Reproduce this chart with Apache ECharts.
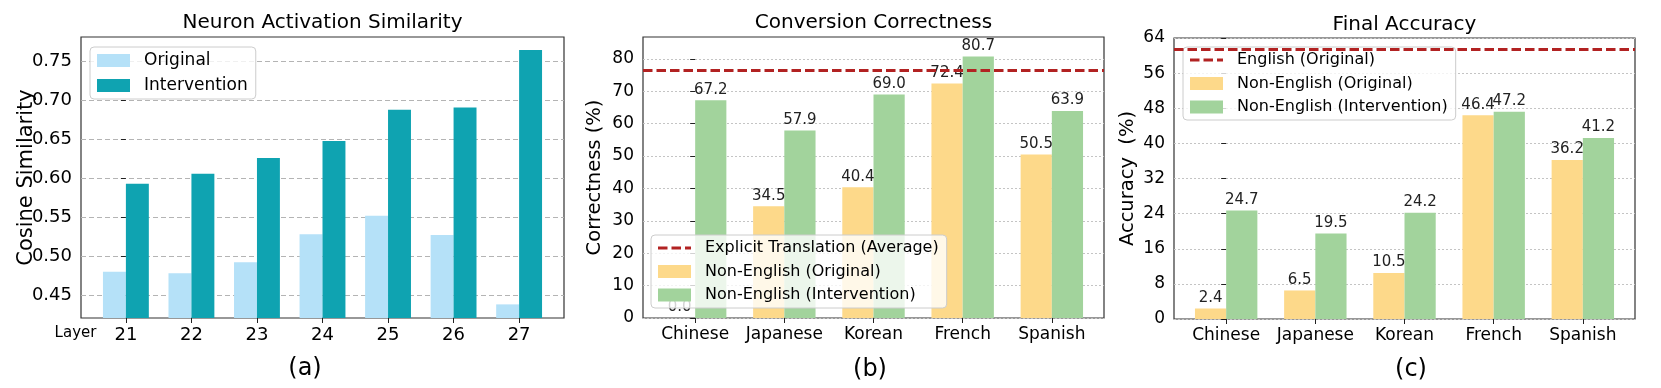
<!DOCTYPE html>
<html>
<head>
<meta charset="utf-8">
<script src="https://cdn.jsdelivr.net/npm/echarts@6/dist/echarts.min.js"></script>
<style>
html, body { margin: 0; background: #fff; }
#main { width: 1661px; height: 388px; }
</style>
</head>
<body>
<div id="main"></div>
<script>
// (a) neuron activation similarity
var layers = ['21', '22', '23', '24', '25', '26', '27'];
var simOriginal = [0.480, 0.478, 0.492, 0.528, 0.552, 0.527, 0.438];
var simIntervention = [0.593, 0.606, 0.626, 0.648, 0.688, 0.691, 0.765];
var simTicks = [0.45, 0.50, 0.55, 0.60, 0.65, 0.70, 0.75];

// (b) conversion correctness
var languages = ['Chinese', 'Japanese', 'Korean', 'French', 'Spanish'];
var convOriginal = [0.0, 34.5, 40.4, 72.4, 50.5];
var convIntervention = [67.2, 57.9, 69.0, 80.7, 63.9];
var convTranslation = 76.6;
var convTicks = [0, 10, 20, 30, 40, 50, 60, 70, 80];

// (c) final accuracy
var accOriginal = [2.4, 6.5, 10.5, 46.4, 36.2];
var accIntervention = [24.7, 19.5, 24.2, 47.2, 41.2];
var accEnglish = 61.5;
var accTicks = [0, 8, 16, 24, 32, 40, 48, 56, 64];

var FONT = 'DejaVu Sans';
var RED = '#b22222';
// three short dashes for the legend entry of the reference lines
var DASH_ICON = 'path://M0,0H9.5V3H0ZM13.5,0H23V3H13.5ZM27,0H33V3H27Z';

function pairs(values) {
    return values.map(function (v, i) { return [i, v]; });
}
function indices(cats) {
    return cats.map(function (c, i) { return i; });
}
// matplotlib style x limits: bars of width 0.35 on each side, 5% margin
function xPad(cats) {
    return (cats.length - 1 + 0.7) * 0.05 + 0.35;
}

function xAxisFor(gridIndex, cats, fontSize) {
    return {
        type: 'value',
        gridIndex: gridIndex,
        min: -xPad(cats),
        max: cats.length - 1 + xPad(cats),
        axisLine: { show: false },
        axisTick: { show: true, customValues: indices(cats), length: 5, lineStyle: { color: '#222' } },
        axisLabel: {
            customValues: indices(cats),
            margin: 8,
            fontSize: fontSize, fontFamily: FONT, color: '#000',
            formatter: function (v) { return cats[Math.round(v)]; }
        },
        splitLine: { show: false }
    };
}

function yAxisFor(gridIndex, min, max, ticks, name, nameGap, nameSize, fontSize, digits, gridLine) {
    return {
        type: 'value',
        gridIndex: gridIndex,
        min: min,
        max: max,
        name: name,
        nameLocation: 'middle',
        nameGap: nameGap,
        nameMoveOverlap: false,
        nameTextStyle: { fontSize: nameSize, fontFamily: FONT, color: '#000' },
        axisLine: { show: false },
        axisTick: { show: true, customValues: ticks, length: 5, lineStyle: { color: '#222' } },
        axisLabel: {
            customValues: ticks,
            margin: 9,
            fontSize: fontSize, fontFamily: FONT, color: '#000',
            formatter: function (v) { return v.toFixed(digits); }
        },
        splitLine: { show: true, lineStyle: gridLine }
    };
}

function barSeries(name, idx, values, color, withLabel) {
    return {
        name: name,
        type: 'bar',
        xAxisIndex: idx,
        yAxisIndex: idx,
        data: pairs(values),
        barWidth: '35%',
        barGap: '0%',
        itemStyle: { color: color },
        label: {
            show: withLabel,
            position: 'top',
            distance: 3,
            fontSize: 15,
            fontFamily: FONT,
            color: '#222',
            formatter: function (p) { return p.value[1].toFixed(1); }
        }
    };
}

function refLine(name, idx, value) {
    return {
        name: name,
        type: 'line',
        xAxisIndex: idx,
        yAxisIndex: idx,
        data: [],
        z: 3,
        symbol: 'none',
        itemStyle: { color: RED },
        lineStyle: { color: RED, type: [9.5, 4], width: 2.8 },
        markLine: {
            silent: true,
            symbol: 'none',
            label: { show: false },
            lineStyle: { color: RED, type: [9.5, 4], width: 2.8 },
            data: [{ yAxis: value }]
        }
    };
}

function legendFor(left, top, items, fontSize, gap) {
    return {
        orient: 'vertical',
        left: left,
        top: top,
        padding: [5, 8, 5, 7],
        itemGap: gap,
        itemWidth: 33,
        itemHeight: 13,
        selectedMode: false,
        backgroundColor: 'rgba(255,255,255,0.8)',
        borderColor: '#cccccc',
        borderWidth: 1,
        borderRadius: 4,
        textStyle: { fontSize: fontSize, fontFamily: FONT, color: '#000', padding: [0, 0, 0, 9] },
        data: items
    };
}

function textTitle(text, x, y, size) {
    return {
        text: text, left: x, top: y, textAlign: 'center', padding: 0,
        textStyle: { fontSize: size, fontWeight: 'normal', fontFamily: FONT, color: '#000' }
    };
}

var chart = echarts.init(document.getElementById('main'), null, { renderer: 'canvas' });

var gridStyle = { show: true, borderColor: '#333', borderWidth: 1.2, backgroundColor: 'transparent' };

chart.setOption({
    animation: false,
    title: [
        textTitle('Neuron Activation Similarity', 322.5, 13, 20),
        textTitle('Conversion Correctness', 873.5, 13, 20),
        textTitle('Final Accuracy', 1404.5, 15, 20),
        textTitle('(a)', 305, 357, 24),
        textTitle('(b)', 870, 358, 24),
        textTitle('(c)', 1411, 358, 24),
        textTitle('Layer', 75.5, 326, 15)
    ],
    grid: [
        Object.assign({ left: 81, top: 37, width: 483, height: 281 }, gridStyle),
        Object.assign({ left: 643, top: 37, width: 461, height: 281 }, gridStyle),
        Object.assign({ left: 1174, top: 38, width: 461, height: 281 }, gridStyle)
    ],
    xAxis: [
        xAxisFor(0, layers, 18),
        xAxisFor(1, languages, 17),
        xAxisFor(2, languages, 17)
    ],
    yAxis: [
        yAxisFor(0, 0.4205, 0.7816, simTicks, 'Cosine Similarity', 44, 21, 18, 2,
            { color: '#b4b4b4', type: [5, 3], width: 1.2 }),
        yAxisFor(1, 0, 86.75, convTicks, 'Correctness (%)', 38, 19.5, 17, 0,
            { color: '#c4c4c4', type: [2, 2], width: 1 }),
        yAxisFor(2, 0, 64, accTicks, 'Accuracy  (%)', 36, 19.5, 17, 0,
            { color: '#c4c4c4', type: [2, 2], width: 1 })
    ],
    legend: [
        legendFor(90, 47, [
            { name: 'Original', icon: 'rect' },
            { name: 'Intervention', icon: 'rect' }
        ], 17, 8),
        legendFor(651, 235, [
            { name: 'Explicit Translation (Average)', icon: DASH_ICON },
            { name: 'Non-English (Original)', icon: 'rect' },
            { name: 'Non-English (Intervention)', icon: 'rect' }
        ], 16, 7.5),
        legendFor(1183, 47, [
            { name: 'English (Original)', icon: DASH_ICON },
            { name: 'Non-English (Original)', icon: 'rect' },
            { name: 'Non-English (Intervention)', icon: 'rect' }
        ], 16, 7.5)
    ],
    series: [
        barSeries('Original', 0, simOriginal, '#b5e1f8', false),
        barSeries('Intervention', 0, simIntervention, '#0fa3b1', false),
        barSeries('Non-English (Original)', 1, convOriginal, '#fdd98a', true),
        barSeries('Non-English (Intervention)', 1, convIntervention, '#a2d39c', true),
        refLine('Explicit Translation (Average)', 1, convTranslation),
        barSeries('Non-English (Original)', 2, accOriginal, '#fdd98a', true),
        barSeries('Non-English (Intervention)', 2, accIntervention, '#a2d39c', true),
        refLine('English (Original)', 2, accEnglish)
    ]
});
</script>
</body>
</html>
